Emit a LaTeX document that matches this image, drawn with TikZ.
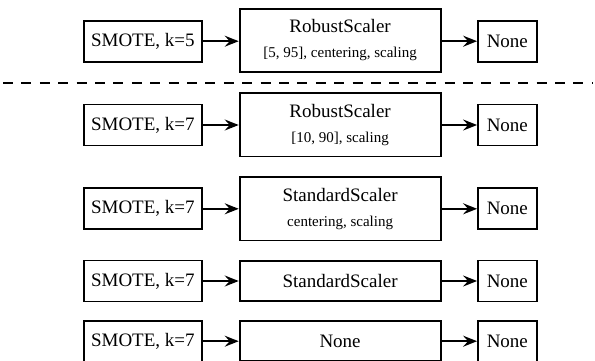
\documentclass[tikz,border=0pt]{standalone}
\usepackage{fontspec}
\setmainfont{Liberation Serif}
\usetikzlibrary{arrows.meta}
\begin{document}
\begin{tikzpicture}[x=1pt,y=-1pt,
  box/.style={draw, line width=1.8pt, inner sep=0pt, font=\fontsize{19}{23}\selectfont},
  src/.style={box, minimum width=117.7pt, minimum height=41pt},
  outbox/.style={box, minimum width=58.7pt, minimum height=41pt},
  midtwo/.style={box, minimum width=201pt, minimum height=63.5pt, align=center},
  midone/.style={box, minimum width=201pt, minimum height=40.5pt},
  arr/.style={line width=1.8pt, -{Stealth[length=14pt,width=11pt,inset=5pt]}},
  sepline/.style={line width=1.8pt, dash pattern=on 10pt off 8.4pt}
]
\useasboundingbox (0,0) rectangle (595,360);
\clip (0,0) rectangle (595,360);
\newcommand{\subtxt}[1]{{\fontsize{15}{17}\selectfont #1}}

% row 1
\node[src] (s1) at (142.85,41.2) {SMOTE, k=5};
\node[midtwo] (m1) at (340.1,40.5) {RobustScaler\\[2pt]\subtxt{[5, 95], centering, scaling}};
\node[outbox] (o1) at (507.35,41.2) {None};
\draw[arr] (s1.east) -- (s1.east -| m1.west);
\draw[arr] (m1.east |- o1.west) -- (o1.west);

% separator
\coordinate (dl) at (3,83.3);
\coordinate (dr) at (593,83.3);
\draw[sepline] (dl) -- (dr);

% row 2
\node[src] (s2) at (142.85,125) {SMOTE, k=7};
\node[midtwo] (m2) at (340.1,124.7) {RobustScaler\\[2pt]\subtxt{[10, 90], scaling}};
\node[outbox] (o2) at (507.35,125) {None};
\draw[arr] (s2.east) -- (s2.east -| m2.west);
\draw[arr] (m2.east |- o2.west) -- (o2.west);

% row 3
\node[src] (s3) at (142.85,208.8) {SMOTE, k=7};
\node[midtwo] (m3) at (340.1,208.7) {StandardScaler\\[2pt]\subtxt{centering, scaling}};
\node[outbox] (o3) at (507.35,208.8) {None};
\draw[arr] (s3.east) -- (s3.east -| m3.west);
\draw[arr] (m3.east |- o3.west) -- (o3.west);

% row 4
\node[src] (s4) at (142.85,281) {SMOTE, k=7};
\node[midone] (m4) at (340.1,281) {StandardScaler};
\node[outbox] (o4) at (507.35,281) {None};
\draw[arr] (s4) -- (m4);
\draw[arr] (m4) -- (o4);

% row 5
\node[src] (s5) at (142.85,341.2) {SMOTE, k=7};
\node[midone] (m5) at (340.1,341) {None};
\node[outbox] (o5) at (507.35,341.2) {None};
\draw[arr] (s5.east) -- (s5.east -| m5.west);
\draw[arr] (m5.east |- o5.west) -- (o5.west);
\end{tikzpicture}
\end{document}
